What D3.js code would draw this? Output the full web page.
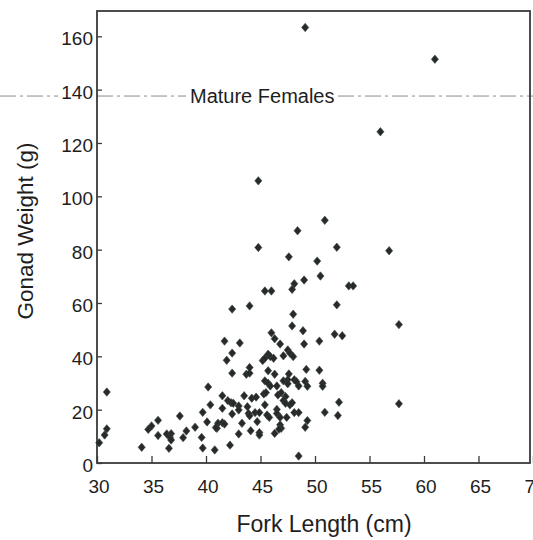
<!DOCTYPE html>
<html>
<head>
<meta charset="utf-8">
<script src="https://cdn.jsdelivr.net/npm/d3@7"></script>
<style>
  body { margin: 0; background: #fff; }
  svg { display: block; }
  text { font-family: "Liberation Sans", Arial, sans-serif; fill: #1e1e1e; }
</style>
</head>
<body>
<svg id="chart" width="533" height="540"></svg>
<script>
// Fork length (cm) of each fish
const forkLength = [
  49.1, 61.0, 56.0, 44.8, 50.9, 48.4, 52.0, 56.8, 44.8, 47.6,
  50.2, 50.5, 49.0, 48.1, 47.9, 53.1, 53.5, 45.4, 46.0, 44.0,
  42.4, 52.0, 48.0, 57.7, 47.9, 48.9, 51.8, 52.5, 46.0, 46.3,
  46.8, 49.0, 50.4, 41.7, 43.1, 42.4, 41.9, 42.4, 43.7, 44.0,
  44.0, 45.2, 45.4, 45.7, 45.9, 46.2, 47.1, 47.5, 47.7, 48.0,
  49.2, 50.4, 45.7, 46.3, 47.6, 45.4, 45.7, 47.1, 47.5, 48.1,
  48.3, 49.1, 50.7, 45.9, 46.5, 47.5, 48.5, 49.3, 50.7, 41.5,
  42.0, 42.3, 41.5, 42.4, 43.0, 43.0, 43.5, 43.8, 43.9, 44.0,
  44.2, 44.6, 44.5, 44.9, 45.3, 45.5, 45.4, 45.6, 45.8, 46.5,
  46.5, 46.6, 46.9, 47.3, 47.1, 47.3, 47.7, 47.9, 46.8, 47.4,
  48.1, 48.5, 46.8, 46.9, 46.7, 46.3, 49.3, 49.1, 50.9, 52.2,
  52.1, 57.7, 41.1, 41.5, 41.0, 43.3, 43.0, 44.1, 44.7, 44.9,
  44.9, 42.2, 48.5, 39.7, 39.6, 39.7, 40.1, 40.2, 40.4, 40.8,
  40.9, 38.2, 37.9, 39.0, 37.6, 36.4, 36.8, 36.7, 36.8, 36.6,
  35.6, 35.6, 34.7, 35.0, 34.1, 30.9, 30.9, 30.7, 30.2, 41.7,
  42.5
];
// Gonad weight (g), same order as forkLength
const gonadWeight = [
  163.3, 151.4, 124.2, 105.8, 91.0, 87.1, 80.9, 79.6, 80.8, 77.3,
  75.7, 70.1, 68.6, 67.2, 65.1, 66.4, 66.4, 64.5, 64.5, 58.9,
  57.7, 59.3, 55.8, 51.9, 51.4, 49.6, 48.3, 47.7, 48.8, 46.6,
  44.6, 44.6, 45.7, 45.7, 45.0, 41.2, 38.5, 33.7, 33.3, 33.7,
  35.8, 38.4, 39.3, 40.8, 39.9, 39.3, 40.2, 42.4, 41.2, 39.9,
  35.1, 34.8, 34.6, 33.3, 33.4, 30.8, 29.9, 30.8, 31.2, 31.2,
  30.5, 30.6, 29.9, 28.9, 28.9, 29.7, 28.9, 28.8, 28.8, 25.2,
  23.4, 22.6, 20.5, 18.4, 21.4, 19.9, 25.2, 21.1, 18.6, 17.7,
  24.3, 24.7, 18.9, 18.9, 25.9, 26.4, 21.8, 18.0, 17.1, 20.1,
  18.6, 25.5, 26.4, 24.9, 23.4, 22.4, 21.8, 22.6, 17.1, 17.1,
  18.9, 18.9, 14.3, 13.0, 12.7, 11.1, 15.9, 13.4, 19.0, 22.8,
  17.8, 22.2, 14.9, 15.1, 13.0, 14.9, 10.9, 12.1, 15.5, 11.4,
  10.5, 6.7, 2.6, 19.0, 9.6, 5.6, 15.4, 28.5, 21.8, 4.9,
  13.3, 12.0, 9.5, 13.4, 17.6, 10.9, 11.0, 9.6, 8.6, 5.5,
  10.3, 16.0, 12.6, 13.9, 5.9, 26.6, 12.8, 10.5, 7.6, 14.6,
  22.4
];

const xTicks = [30, 35, 40, 45, 50, 55, 60, 65, 70];
const yTicks = [0, 20, 40, 60, 80, 100, 120, 140, 160];

// Maturity threshold drawn as a reference line
const maturityWeight = 137.6;
const maturityLabel = "Mature Females";

const xTitle = "Fork Length (cm)";
const yTitle = "Gonad Weight (g)";

// ---- layout ----
const svg = d3.select("#chart");
const frame = { left: 97, right: 530, top: 11, bottom: 463 };

const x = d3.scaleLinear().domain([30, 70]).range([97, 533]);
const y = d3.scaleLinear().domain([0, 160]).range([463, 36.3]);

const points = forkLength.map((v, i) => ({ fl: v, gw: gonadWeight[i] }));

// threshold line (runs across the full page width)
const lineY = y(maturityWeight);
const dash = "16,4,3,4";
const segments = [[0, 58], [97, 186], [338, 533]];
svg.append("g")
  .selectAll("line")
  .data(segments)
  .join("line")
  .attr("x1", d => d[0]).attr("x2", d => d[1])
  .attr("y1", lineY).attr("y2", lineY)
  .attr("stroke", "#8c8c8c")
  .attr("stroke-width", 1)
  .attr("stroke-dasharray", dash);

svg.append("text")
  .attr("x", 190)
  .attr("y", lineY)
  .attr("dy", "0.35em")
  .attr("font-size", 20)
  .text(maturityLabel);

// plot frame
svg.append("rect")
  .attr("x", frame.left).attr("y", frame.top)
  .attr("width", frame.right - frame.left)
  .attr("height", frame.bottom - frame.top)
  .attr("fill", "none")
  .attr("stroke", "#3a3a3a")
  .attr("stroke-width", 1.8);

// axes with inward ticks
const xAxis = d3.axisBottom(x)
  .tickValues(xTicks)
  .tickFormat(d3.format("d"))
  .tickSizeInner(-7)
  .tickSizeOuter(0)
  .tickPadding(17);

const gx = svg.append("g")
  .attr("transform", `translate(0,${frame.bottom})`)
  .call(xAxis);
gx.select(".domain").remove();
gx.selectAll(".tick line").attr("stroke", "#3a3a3a").attr("stroke-width", 1.3);
gx.selectAll(".tick text")
  .attr("font-size", 19)
  .attr("fill", "#1e1e1e")
  .attr("font-family", "Liberation Sans, Arial, sans-serif")
  .attr("dx", 1.5);

const yAxis = d3.axisLeft(y)
  .tickValues(yTicks)
  .tickFormat(d3.format("d"))
  .tickSizeInner(-5)
  .tickSizeOuter(0)
  .tickPadding(4);

const gy = svg.append("g")
  .attr("transform", `translate(${frame.left},0)`)
  .call(yAxis);
gy.select(".domain").remove();
gy.selectAll(".tick line").attr("stroke", "#3a3a3a").attr("stroke-width", 1.3);
gy.selectAll(".tick text")
  .attr("font-size", 19)
  .attr("fill", "#1e1e1e")
  .attr("font-family", "Liberation Sans, Arial, sans-serif")
  .attr("dy", "0.45em");

// diamond marker, a little wider than d3's built-in diamond
const wideDiamond = {
  draw(ctx, size) {
    const hy = Math.sqrt(size / 1.7);
    const hx = hy * 0.85;
    ctx.moveTo(0, -hy);
    ctx.lineTo(hx, 0);
    ctx.lineTo(0, hy);
    ctx.lineTo(-hx, 0);
    ctx.closePath();
  }
};
const marker = d3.symbol().type(wideDiamond).size(30);

svg.append("g")
  .selectAll("path")
  .data(points)
  .join("path")
  .attr("d", marker)
  .attr("transform", d => `translate(${x(d.fl)},${y(d.gw)})`)
  .attr("fill", "#262a29")
  .attr("stroke", "#3c4442")
  .attr("stroke-width", 0.6);

// axis titles
svg.append("text")
  .attr("x", 324)
  .attr("y", 532)
  .attr("text-anchor", "middle")
  .attr("font-size", 23)
  .text(xTitle);

svg.append("text")
  .attr("transform", "translate(33,231) rotate(-90)")
  .attr("text-anchor", "middle")
  .attr("font-size", 22.5)
  .text(yTitle);
</script>
</body>
</html>
